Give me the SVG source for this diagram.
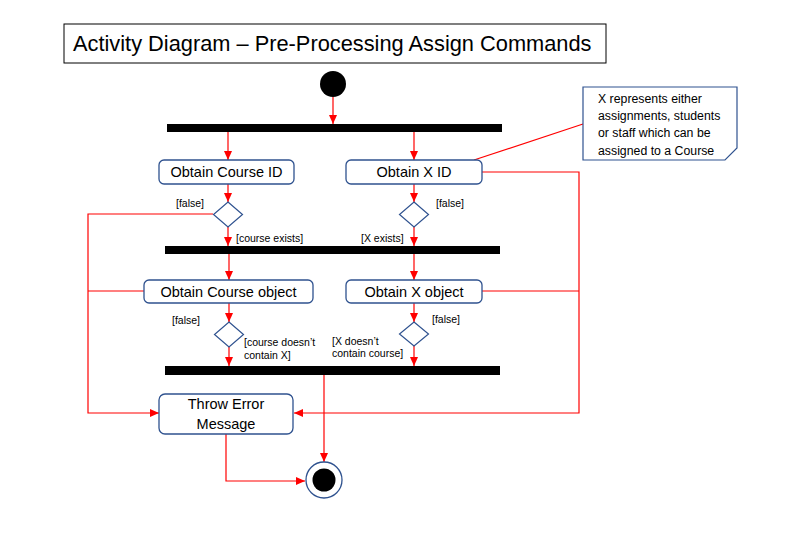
<svg xmlns="http://www.w3.org/2000/svg" width="794" height="547" viewBox="0 0 794 547">
<style>
.box{fill:#fff;stroke:#2F528F;stroke-width:1.3}
.dia{fill:#fff;stroke:#2F528F;stroke-width:1.2}
.bar{fill:#000}
.t{font-family:"Liberation Sans",Arial,sans-serif;font-size:14.5px;fill:#000;text-anchor:middle}
.s{font-family:"Liberation Sans",Arial,sans-serif;font-size:10.5px;fill:#000}
.n{font-family:"Liberation Sans",Arial,sans-serif;font-size:12.3px;fill:#000}
.c{fill:none;stroke:#FF0000;stroke-width:1.2}
</style>
<defs>
<marker id="ah" markerUnits="userSpaceOnUse" markerWidth="10" markerHeight="10" refX="9" refY="5" orient="auto">
<path d="M0,1 L9,5 L0,9 Z" fill="#FF0000"/>
</marker>
</defs>
<rect width="794" height="547" fill="#fff"/>
<g id="title">
<rect x="64" y="24" width="542" height="39" fill="#fff" stroke="#000" stroke-width="1"/>
<text x="73" y="51" font-family="Liberation Sans,Arial,sans-serif" font-size="21.8px" fill="#000">Activity Diagram – Pre-Processing Assign Commands</text>
</g>
<g id="connectors">
<path class="c" d="M333 97 V124" marker-end="url(#ah)"/>
<path class="c" d="M228 132 V160" marker-end="url(#ah)"/>
<path class="c" d="M414 132 V160" marker-end="url(#ah)"/>
<path class="c" d="M228 184 V202" marker-end="url(#ah)"/>
<path class="c" d="M414 184 V202" marker-end="url(#ah)"/>
<path class="c" d="M228 227 V246" marker-end="url(#ah)"/>
<path class="c" d="M414 227 V246" marker-end="url(#ah)"/>
<path class="c" d="M229 254 V280" marker-end="url(#ah)"/>
<path class="c" d="M414 254 V280" marker-end="url(#ah)"/>
<path class="c" d="M229 303 V322" marker-end="url(#ah)"/>
<path class="c" d="M414 303 V322" marker-end="url(#ah)"/>
<path class="c" d="M229 347 V366" marker-end="url(#ah)"/>
<path class="c" d="M414 346 V366" marker-end="url(#ah)"/>
<path class="c" d="M324 375 V462" marker-end="url(#ah)"/>
<path class="c" d="M226 434 V481 H305" marker-end="url(#ah)"/>
<path class="c" d="M213 214 H88 V413 H159" marker-end="url(#ah)"/>
<path class="c" d="M144 291 H88"/>
<path class="c" d="M482 172 H579 V413 H294" marker-end="url(#ah)"/>
<path class="c" d="M482 291 H579"/>
<path class="c" d="M583 124 L474 160"/>
</g>
<g id="start"><circle cx="333" cy="84" r="13" fill="#000"/></g>
<g id="fork1"><rect class="bar" x="167" y="124" width="335" height="8"/></g>
<g id="obtainCourseId">
<rect class="box" x="159" y="160" width="135" height="24" rx="5"/>
<text class="t" x="226.5" y="177">Obtain Course ID</text>
</g>
<g id="obtainXId">
<rect class="box" x="346" y="160" width="136" height="24" rx="5"/>
<text class="t" x="414" y="177">Obtain X ID</text>
</g>
<g id="note">
<path d="M583 87 H737 V148 L725 160 H583 Z" fill="#fff" stroke="#2F528F" stroke-width="1.2"/>
<text class="n" x="598" y="103">X represents either</text>
<text class="n" x="598" y="120">assignments, students</text>
<text class="n" x="598" y="137">or staff which can be</text>
<text class="n" x="598" y="155">assigned to a Course</text>
</g>
<g id="decision1">
<path class="dia" d="M228 202 L242.5 214.5 L228 227 L213.5 214.5 Z"/>
<text class="s" x="176" y="207">[false]</text>
<text class="s" x="236" y="242">[course exists]</text>
</g>
<g id="decision2">
<path class="dia" d="M414 202 L428.5 214.5 L414 227 L399.5 214.5 Z"/>
<text class="s" x="436" y="207">[false]</text>
<text class="s" x="361" y="242">[X exists]</text>
</g>
<g id="join1"><rect class="bar" x="165" y="246" width="335" height="8"/></g>
<g id="obtainCourseObject">
<rect class="box" x="144" y="280" width="169" height="23" rx="5"/>
<text class="t" x="228.5" y="296.5">Obtain Course object</text>
</g>
<g id="obtainXObject">
<rect class="box" x="346" y="280" width="136" height="23" rx="5"/>
<text class="t" x="414" y="296.5">Obtain X object</text>
</g>
<g id="decision3">
<path class="dia" d="M229 322 L243.5 334.5 L229 347 L214.5 334.5 Z"/>
<text class="s" x="172" y="324">[false]</text>
<text class="s" x="244" y="346">[course doesn’t</text>
<text class="s" x="244" y="359">contain X]</text>
</g>
<g id="decision4">
<path class="dia" d="M414 322 L428.5 334 L414 346 L399.5 334 Z"/>
<text class="s" x="432" y="323">[false]</text>
<text class="s" x="332" y="345">[X doesn’t</text>
<text class="s" x="332" y="357">contain course]</text>
</g>
<g id="join2"><rect class="bar" x="165" y="366" width="335" height="9"/></g>
<g id="throwError">
<rect class="box" x="159" y="394" width="134" height="40" rx="6"/>
<text class="t" x="226" y="409">Throw Error</text>
<text class="t" x="226" y="429">Message</text>
</g>
<g id="end">
<circle cx="324" cy="480" r="18" fill="#fff" stroke="#2F528F" stroke-width="1.3"/>
<circle cx="324" cy="480" r="11.5" fill="#000"/>
</g>
</svg>
